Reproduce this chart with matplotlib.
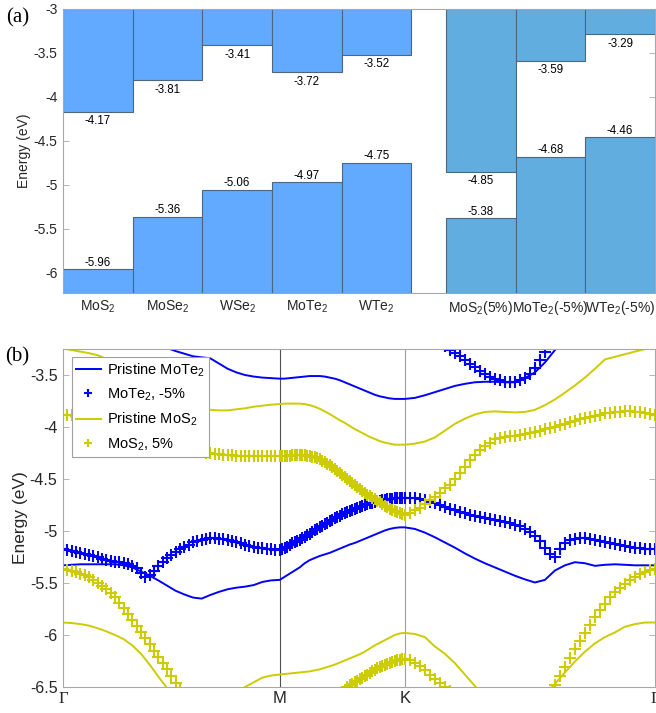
import numpy as np
import matplotlib
matplotlib.use('Agg')
import matplotlib.pyplot as plt
from matplotlib.ticker import FuncFormatter

plt.rcParams['font.family'] = ['Liberation Sans', 'DejaVu Sans']
plt.rcParams['mathtext.default'] = 'regular'
plt.rcParams['axes.unicode_minus'] = False

# ---- (a) band edges ----
materials = ['MoS$_2$', 'MoSe$_2$', 'WSe$_2$', 'MoTe$_2$', 'WTe$_2$',
             'MoS$_2$(5%)', 'MoTe$_2$(-5%)', 'WTe$_2$(-5%)']
cbm = [-4.17, -3.81, -3.41, -3.72, -3.52, -4.85, -3.59, -3.29]
vbm = [-5.96, -5.36, -5.06, -4.97, -4.75, -5.38, -4.68, -4.46]

# ---- (b) band structures along G-M-K-G ----
kpath_labels = ['Γ', 'M', 'K', 'Γ']

# strained bands (markers), 50 steps per segment
mote2_s_vb = [
    -5.17, -5.18, -5.19, -5.20, -5.21, -5.22, -5.23, -5.24, -5.25, -5.265,
    -5.275, -5.285, -5.295, -5.30, -5.31, -5.32, -5.335, -5.36, -5.40, -5.44,
    -5.42, -5.38, -5.34, -5.30, -5.26, -5.23, -5.20, -5.175, -5.15, -5.13,
    -5.11, -5.095, -5.085, -5.075, -5.07, -5.07, -5.075, -5.08, -5.09, -5.10,
    -5.11, -5.12, -5.13, -5.14, -5.15, -5.16, -5.165, -5.17, -5.175, -5.18,
    -5.18,
    -5.17, -5.16, -5.15, -5.135, -5.12, -5.11, -5.10, -5.085, -5.07, -5.055,
    -5.04, -5.025, -5.01, -4.995, -4.98, -4.965, -4.95, -4.935, -4.92, -4.905,
    -4.89, -4.875, -4.865, -4.855, -4.84, -4.83, -4.82, -4.805, -4.795, -4.785,
    -4.775, -4.765, -4.755, -4.75, -4.74, -4.735, -4.73, -4.72, -4.715, -4.71,
    -4.705, -4.70, -4.695, -4.69, -4.69, -4.685, -4.685, -4.68, -4.68, -4.68,
    -4.68, -4.685, -4.69, -4.70, -4.72, -4.735, -4.75, -4.77, -4.785, -4.80,
    -4.815, -4.83, -4.845, -4.855, -4.865, -4.875, -4.885, -4.89, -4.90, -4.91,
    -4.925, -4.94, -4.955, -4.98, -5.01, -5.05, -5.10, -5.16, -5.22, -5.25,
    -5.17, -5.12, -5.09, -5.075, -5.07, -5.07, -5.075, -5.085, -5.095, -5.105,
    -5.115, -5.125, -5.135, -5.145, -5.15, -5.16, -5.165, -5.17, -5.17, -5.17,
]
# conduction band of strained MoTe2, only the part inside the window (K-G)
mote2_s_cb = [
    -3.22, -3.26, -3.29, -3.32, -3.355, -3.39, -3.425, -3.46, -3.49, -3.515,
    -3.535, -3.55, -3.565, -3.57, -3.565, -3.55, -3.525, -3.49, -3.43, -3.36,
    -3.28,
]
mote2_s_cb_start = 108

mos2_s_cb = [
    -3.88, -3.88, -3.885, -3.89, -3.90, -3.91, -3.93, -3.95, -3.97, -3.99,
    -4.01, -4.03, -4.05, -4.07, -4.09, -4.11, -4.12, -4.14, -4.15, -4.16,
    -4.17, -4.18, -4.19, -4.20, -4.20, -4.21, -4.21, -4.22, -4.22, -4.23,
    -4.23, -4.24, -4.24, -4.25, -4.25, -4.26, -4.26, -4.265, -4.27, -4.27,
    -4.275, -4.28, -4.28, -4.28, -4.28, -4.28, -4.28, -4.28, -4.28, -4.28,
    -4.28,
    -4.28, -4.28, -4.275, -4.275, -4.27, -4.27, -4.27, -4.27, -4.27, -4.27,
    -4.275, -4.28, -4.285, -4.29, -4.30, -4.31, -4.325, -4.34, -4.355, -4.37,
    -4.385, -4.40, -4.42, -4.44, -4.46, -4.48, -4.50, -4.52, -4.54, -4.56,
    -4.58, -4.60, -4.62, -4.635, -4.65, -4.665, -4.68, -4.695, -4.71, -4.725,
    -4.74, -4.755, -4.77, -4.785, -4.80, -4.81, -4.82, -4.83, -4.84, -4.845,
    -4.83, -4.80, -4.775, -4.74, -4.70, -4.67, -4.63, -4.59, -4.555, -4.50,
    -4.44, -4.38, -4.32, -4.27, -4.22, -4.18, -4.15, -4.12, -4.11, -4.10,
    -4.09, -4.085, -4.08, -4.07, -4.06, -4.05, -4.035, -4.02, -4.01, -4.00,
    -3.985, -3.97, -3.955, -3.94, -3.925, -3.91, -3.90, -3.89, -3.88, -3.87,
    -3.865, -3.86, -3.855, -3.85, -3.85, -3.855, -3.86, -3.87, -3.875, -3.88,
]
mos2_s_vb = [
    -5.37, -5.375, -5.385, -5.395, -5.41, -5.425, -5.445, -5.47, -5.50, -5.53,
    -5.56, -5.60, -5.635, -5.69, -5.745, -5.80, -5.86, -5.915, -5.975, -6.03,
    -6.09, -6.15, -6.21, -6.27, -6.33, -6.395, -6.46, -6.52, -6.58, -6.64,
    -6.70, -6.75, -6.80, -6.85, -6.89, -6.93, -6.96, -6.99, -7.01, -7.03,
    -7.05, -7.06, -7.07, -7.08, -7.09, -7.09, -7.10, -7.10, -7.10, -7.10,
    -7.10,
    -7.09, -7.08, -7.07, -7.06, -7.04, -7.02, -7.00, -6.98, -6.96, -6.94,
    -6.92, -6.90, -6.87, -6.85, -6.82, -6.80, -6.77, -6.75, -6.72, -6.70,
    -6.67, -6.65, -6.625, -6.60, -6.565, -6.53, -6.50, -6.485, -6.47, -6.455,
    -6.44, -6.425, -6.41, -6.395, -6.38, -6.365, -6.35, -6.335, -6.32, -6.31,
    -6.30, -6.29, -6.28, -6.27, -6.26, -6.25, -6.245, -6.24, -6.235, -6.235,
    -6.245, -6.27, -6.30, -6.34, -6.38, -6.42, -6.46, -6.50, -6.54, -6.58,
    -6.63, -6.68, -6.73, -6.78, -6.83, -6.87, -6.91, -6.94, -6.96, -6.97,
    -6.97, -6.95, -6.92, -6.88, -6.83, -6.77, -6.71, -6.64, -6.57, -6.48,
    -6.39, -6.305, -6.22, -6.135, -6.055, -5.98, -5.90, -5.83, -5.76, -5.70,
    -5.635, -5.59, -5.55, -5.51, -5.47, -5.44, -5.41, -5.39, -5.375, -5.37,
]

# pristine bands (lines), 25 steps per segment
mote2_cb = [
    -2.95, -2.97, -2.99, -3.01, -3.03, -3.05, -3.07, -3.09, -3.12, -3.15,
    -3.18, -3.21, -3.24, -3.27, -3.295, -3.32, -3.33, -3.34, -3.39, -3.44,
    -3.475, -3.50, -3.515, -3.525, -3.53, -3.535,
    -3.535, -3.53, -3.525, -3.52, -3.515, -3.51, -3.51, -3.51, -3.515, -3.525,
    -3.535, -3.55, -3.57, -3.59, -3.61, -3.63, -3.65, -3.67, -3.69, -3.705,
    -3.715, -3.725, -3.73, -3.73, -3.73,
    -3.72, -3.695, -3.665, -3.635, -3.605, -3.585, -3.57, -3.565, -3.565, -3.57,
    -3.57, -3.53, -3.475, -3.38, -3.26, -3.16, -3.08, -3.03, -3.00, -2.98,
    -2.965, -2.955, -2.95, -2.95, -2.95,
]
mote2_vb = [
    -5.33, -5.325, -5.32, -5.32, -5.32, -5.32, -5.32, -5.33, -5.35, -5.39,
    -5.43, -5.475, -5.525, -5.575, -5.61, -5.64, -5.65, -5.615, -5.585, -5.56,
    -5.545, -5.535, -5.52, -5.49, -5.475, -5.47,
    -5.44, -5.41, -5.38, -5.35, -5.31, -5.28, -5.26, -5.24, -5.225, -5.21,
    -5.19, -5.17, -5.15, -5.13, -5.115, -5.095, -5.075, -5.055, -5.035, -5.015,
    -4.995, -4.98, -4.97, -4.965, -4.965,
    -4.98, -5.015, -5.06, -5.11, -5.16, -5.215, -5.265, -5.31, -5.35, -5.39,
    -5.43, -5.465, -5.495, -5.47, -5.38, -5.33, -5.30, -5.31, -5.335, -5.325,
    -5.32, -5.325, -5.33, -5.33, -5.33,
]
mos2_cb = [
    -3.245, -3.26, -3.275, -3.29, -3.31, -3.345, -3.385, -3.43, -3.48, -3.53,
    -3.58, -3.63, -3.68, -3.72, -3.76, -3.79, -3.82, -3.835, -3.84, -3.84,
    -3.83, -3.82, -3.805, -3.795, -3.785, -3.78,
    -3.775, -3.775, -3.775, -3.775, -3.78, -3.79, -3.805, -3.825, -3.85, -3.875,
    -3.905, -3.935, -3.96, -3.99, -4.02, -4.045, -4.07, -4.095, -4.115, -4.135,
    -4.15, -4.16, -4.17, -4.17, -4.17,
    -4.16, -4.14, -4.10, -4.035, -3.97, -3.92, -3.88, -3.855, -3.85, -3.855,
    -3.86, -3.855, -3.835, -3.79, -3.735, -3.67, -3.60, -3.525, -3.44, -3.35,
    -3.325, -3.30, -3.275, -3.25, -3.245,
]
mos2_vb = [
    -5.88, -5.885, -5.895, -5.91, -5.935, -5.965, -6.00, -6.04, -6.10, -6.18,
    -6.285, -6.40, -6.51, -6.62, -6.70, -6.74, -6.75, -6.73, -6.69, -6.64,
    -6.58, -6.50, -6.455, -6.41, -6.39, -6.38,
    -6.375, -6.37, -6.365, -6.36, -6.355, -6.35, -6.34, -6.33, -6.315, -6.30,
    -6.285, -6.265, -6.245, -6.225, -6.205, -6.185, -6.16, -6.13, -6.10, -6.075,
    -6.05, -6.025, -6.00, -5.985, -5.98,
    -5.99, -6.02, -6.11, -6.18, -6.27, -6.38, -6.49, -6.60, -6.70, -6.78,
    -6.80, -6.76, -6.68, -6.58, -6.47, -6.36, -6.255, -6.16, -6.08, -6.02,
    -5.975, -5.92, -5.895, -5.88, -5.88,
]

# reciprocal-space segment lengths (hexagonal BZ)
seg = [1 / np.sqrt(3), 1 / 3, 2 / 3]
kticks = np.concatenate([[0], np.cumsum(seg)])


def kgrid(n):
    parts = [np.linspace(kticks[0], kticks[1], n + 1)]
    for a, b in zip(kticks[1:-1], kticks[2:]):
        parts.append(np.linspace(a, b, n + 1)[1:])
    return np.concatenate(parts)


k_fine = kgrid(50)
k_coarse = kgrid(25)

fig = plt.figure(figsize=(6.56, 7.13), dpi=100)
W, H = 656, 713
ax1 = fig.add_axes([63 / W, 1 - 293 / H, 592 / W, 284 / H])
ax2 = fig.add_axes([63 / W, 1 - 687 / H, 592 / W, 338 / H])

tick_gray = '#a8a8a8'
text_col = '#262626'
fmt = FuncFormatter(lambda v, p: '%g' % v)

# ---- panel (a) ----
top, low = -3.0, -6.23
xpos = np.r_[np.arange(5) + 0.5, np.arange(3) + 6.0]
cols = ['#62aaff'] * 5 + ['#62ade0'] * 3
cb = np.array(cbm)
vb = np.array(vbm)
ax1.bar(xpos, top - cb, bottom=cb, width=1.0, color=cols,
        edgecolor='#4a6680', linewidth=0.8)
ax1.bar(xpos, vb - low, bottom=low, width=1.0, color=cols,
        edgecolor='#4a6680', linewidth=0.8)
for x, c, v in zip(xpos, cbm, vbm):
    ax1.annotate('%.2f' % c, (x, c), xytext=(0, -2.5), textcoords='offset points',
                 ha='center', va='top', fontsize=8.3, color='black')
    ax1.annotate('%.2f' % v, (x, v), xytext=(0, 0.5), textcoords='offset points',
                 ha='center', va='bottom', fontsize=8.3, color='black')
ax1.set_xlim(0, 8.5)
ax1.set_ylim(low, top)
ax1.set_yticks(np.arange(-6, -2.9, 0.5))
ax1.yaxis.set_major_formatter(fmt)
ax1.set_xticks(xpos)
ax1.set_xticklabels(materials)
ax1.set_axisbelow(True)
ax1.tick_params(axis='y', direction='in', right=True, length=4, width=0.6,
                color=tick_gray, labelcolor=text_col, labelsize=10, pad=4)
ax1.tick_params(axis='x', length=0, labelcolor=text_col, labelsize=10, pad=4)
for s in ax1.spines.values():
    s.set_color(tick_gray)
    s.set_linewidth(0.8)
ax1.set_ylabel('Energy (eV)', fontsize=10, color=text_col, labelpad=2)

# ---- panel (b) ----
blue = '#0000ff'
yel = '#cccc00'
lw = 1.4
ms = 8.5
mew = 1.5
ax2.axvline(kticks[1], color='#505050', lw=0.8, zorder=0)
ax2.axvline(kticks[2], color='#a0a0a0', lw=0.8, zorder=0)

h1, = ax2.plot(k_coarse, mote2_cb, color=blue, lw=lw)
ax2.plot(k_coarse, mote2_vb, color=blue, lw=lw)
h2, = ax2.plot(k_fine, mote2_s_vb, '+', color=blue, ms=ms, mew=mew)
ax2.plot(k_fine[mote2_s_cb_start:mote2_s_cb_start + len(mote2_s_cb)],
         mote2_s_cb, '+', color=blue, ms=ms, mew=mew)
h3, = ax2.plot(k_coarse, mos2_cb, color=yel, lw=lw)
ax2.plot(k_coarse, mos2_vb, color=yel, lw=lw)
h4, = ax2.plot(k_fine, mos2_s_cb, '+', color=yel, ms=ms, mew=mew)
ax2.plot(k_fine, mos2_s_vb, '+', color=yel, ms=ms, mew=mew)

ax2.set_xlim(kticks[0], kticks[-1])
ax2.set_ylim(-6.5, -3.25)
ax2.set_yticks(np.arange(-6.5, -3.4, 0.5))
ax2.yaxis.set_major_formatter(fmt)
ax2.set_xticks(kticks)
ax2.set_xticklabels(kpath_labels)
for lab in ax2.get_xticklabels():
    if lab.get_text() == 'Γ':
        lab.set_fontfamily(['Liberation Serif', 'DejaVu Serif'])
ax2.tick_params(axis='y', direction='in', right=True, length=4, width=0.6,
                color=tick_gray, labelcolor=text_col, labelsize=11.5, pad=4)
ax2.tick_params(axis='x', direction='in', length=0, labelcolor=text_col,
                labelsize=12, pad=3)
for s in ax2.spines.values():
    s.set_color(tick_gray)
    s.set_linewidth(0.8)
ax2.set_ylabel('Energy (eV)', fontsize=12.5, color=text_col, labelpad=1)

leg = ax2.legend([h1, h2, h3, h4],
                 ['Pristine MoTe$_2$', 'MoTe$_2$, -5%', 'Pristine MoS$_2$', 'MoS$_2$, 5%'],
                 loc='upper left', bbox_to_anchor=(0.0147, 0.977), borderaxespad=0,
                 fontsize=10.5, frameon=True, fancybox=False, framealpha=1,
                 edgecolor='#a0a0a0', handlelength=1.7, labelspacing=0.55,
                 borderpad=0.3, handletextpad=0.45, markerscale=0.75)
leg.get_frame().set_linewidth(0.8)

fig.text(6 / W, 1 - 18 / H, '(a)', fontsize=15, va='center', ha='left',
         fontfamily=['Liberation Serif', 'DejaVu Serif'])
fig.text(5 / W, 1 - 357 / H, '(b)', fontsize=15, va='center', ha='left',
         fontfamily=['Liberation Serif', 'DejaVu Serif'])

fig.savefig('out.png', dpi=100)
